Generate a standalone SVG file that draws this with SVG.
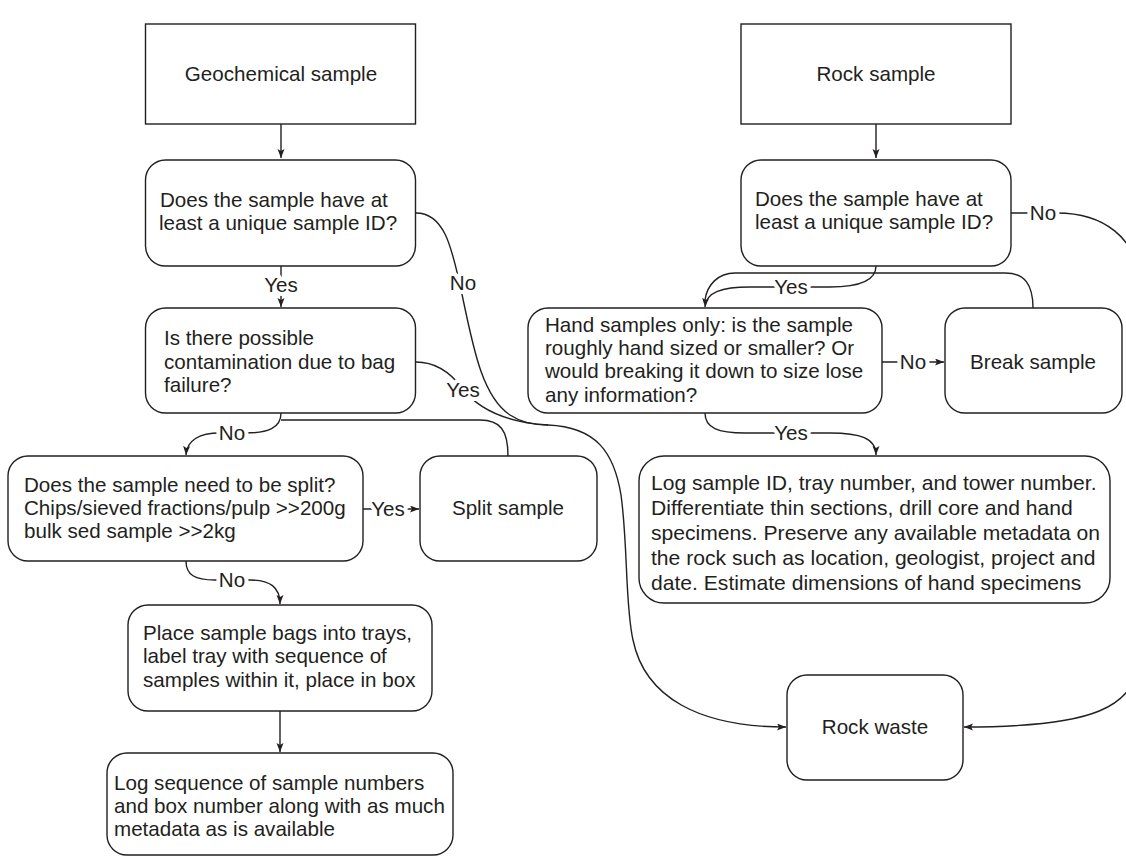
<svg xmlns="http://www.w3.org/2000/svg" width="1126" height="857" viewBox="0 0 1126 857">
<style>
.box{fill:#ffffff;stroke:#231f20;stroke-width:1.4}
.t{font-family:"Liberation Sans",Arial,Helvetica,sans-serif;font-size:20.6px;fill:#231f20}
.big{font-size:21.1px}
.c{text-anchor:middle}
.ln{fill:none;stroke:#231f20;stroke-width:1.4}
.lbl{font-family:"Liberation Sans",Arial,Helvetica,sans-serif;font-size:20.6px;fill:#231f20;text-anchor:middle;stroke:#ffffff;stroke-width:8;stroke-linejoin:round;paint-order:stroke}
</style>
<defs>
<marker id="ah" markerUnits="userSpaceOnUse" markerWidth="10" markerHeight="8" refX="9" refY="3.5" orient="auto">
<path d="M0,0 L9,3.5 L0,7 L2,3.5 z" fill="#231f20"/>
</marker>
</defs>
<rect width="1126" height="857" fill="#ffffff"/>

<g id="connectors">
<path class="ln" d="M281,124 L281,158" marker-end="url(#ah)"/>
<path class="ln" d="M876,124 L876,158" marker-end="url(#ah)"/>
<path class="ln" d="M281,266 L281,307" marker-end="url(#ah)"/>
<path class="ln" d="M416,213 C445,213 452,250 460,285 C472,340 480,395 510,415 C522,423 535,425 548,425 C596,427 614,452 621,495 C628,545 625,605 633,640 C645,698 700,727 786,727" marker-end="url(#ah)"/>
<path class="ln" d="M416,362 C436,362 450,372 462,388 C475,405 500,422 548,425"/>
<path class="ln" d="M281,413 C281,428 268,433 245,433 L220,433 C200,433 187,440 186,455" marker-end="url(#ah)"/>
<path class="ln" d="M508,456 C508,430 500,420 480,420 L281,420"/>
<path class="ln" d="M363,509 L419,509" marker-end="url(#ah)"/>
<path class="ln" d="M186,561 C186,575 195,580 215,580 L250,580 C270,580 280,587 280,604" marker-end="url(#ah)"/>
<path class="ln" d="M280,711 L280,752" marker-end="url(#ah)"/>
<path class="ln" d="M1011,213 L1057,213 C1100,213 1140,235 1140,290 L1140,650 C1140,710 1090,727 964,727" marker-end="url(#ah)"/>
<path class="ln" d="M876,266 C876,280 862,287 830,287 L750,287 C722,287 706,292 705,307" marker-end="url(#ah)"/>
<path class="ln" d="M1033,308 C1033,285 1025,273 1005,273 L735,273 C718,273 707,285 705,300"/>
<path class="ln" d="M882,362 L944,362" marker-end="url(#ah)"/>
<path class="ln" d="M705,413 C705,428 718,433 745,433 L830,433 C860,433 876,438 876,455" marker-end="url(#ah)"/>
<text class="lbl" x="281" y="292">Yes</text>
<text class="lbl" x="463" y="290">No</text>
<text class="lbl" x="463" y="397">Yes</text>
<text class="lbl" x="232" y="440">No</text>
<text class="lbl" x="388" y="516">Yes</text>
<text class="lbl" x="232" y="587">No</text>
<text class="lbl" x="791" y="294">Yes</text>
<text class="lbl" x="1043" y="220">No</text>
<text class="lbl" x="913" y="369">No</text>
<text class="lbl" x="791" y="440">Yes</text>
</g>

<g id="geochemical-sample">
<rect class="box" x="145.5" y="24" width="270" height="100"/>
<text class="t c" x="281" y="81">Geochemical sample</text>
</g>
<g id="rock-sample">
<rect class="box" x="741" y="24" width="270" height="100"/>
<text class="t c" x="876" y="81">Rock sample</text>
</g>

<g id="q-unique-id-left">
<rect class="box" x="145.5" y="160" width="270" height="106" rx="20"/>
<text class="t" x="160" y="207">Does the sample have at</text>
<text class="t" x="159" y="230">least a unique sample ID?</text>
</g>
<g id="q-contamination">
<rect class="box" x="145.5" y="308" width="270" height="105" rx="20"/>
<text class="t" x="164" y="345">Is there possible</text>
<text class="t" x="164" y="369">contamination due to bag</text>
<text class="t" x="164" y="392">failure?</text>
</g>
<g id="q-split">
<rect class="box" x="8" y="456" width="355" height="105" rx="20"/>
<text class="t" x="24" y="492">Does the sample need to be split?</text>
<text class="t" x="24" y="515">Chips/sieved fractions/pulp &gt;&gt;200g</text>
<text class="t" x="24" y="538">bulk sed sample &gt;&gt;2kg</text>
</g>
<g id="split-sample">
<rect class="box" x="420" y="456" width="177" height="105" rx="20"/>
<text class="t c" x="508" y="515">Split sample</text>
</g>
<g id="place-trays">
<rect class="box" x="128" y="605" width="304" height="106" rx="20"/>
<text class="t" x="143" y="640">Place sample bags into trays,</text>
<text class="t" x="143" y="663">label tray with sequence of</text>
<text class="t" x="143" y="687">samples within it, place in box</text>
</g>
<g id="log-sequence">
<rect class="box" x="107" y="753" width="346" height="102" rx="20"/>
<text class="t" x="114" y="790">Log sequence of sample numbers</text>
<text class="t" x="114" y="813">and box number along with as much</text>
<text class="t" x="114" y="836">metadata as is available</text>
</g>

<g id="q-unique-id-right">
<rect class="box" x="741" y="160" width="270" height="106" rx="20"/>
<text class="t" x="755" y="206">Does the sample have at</text>
<text class="t" x="755" y="229">least a unique sample ID?</text>
</g>
<g id="q-hand-sample">
<rect class="box" x="528" y="308" width="354" height="105" rx="20"/>
<text class="t" x="545" y="332">Hand samples only: is the sample</text>
<text class="t" x="545" y="355">roughly hand sized or smaller? Or</text>
<text class="t" x="545" y="378">would breaking it down to size lose</text>
<text class="t" x="545" y="402">any information?</text>
</g>
<g id="break-sample">
<rect class="box" x="945" y="308" width="177" height="105" rx="20"/>
<text class="t c" x="1033" y="369">Break sample</text>
</g>
<g id="log-rock">
<rect class="box" x="639" y="456" width="471" height="147" rx="25"/>
<text class="t big" x="651" y="490">Log sample ID, tray number, and tower number.</text>
<text class="t big" x="651" y="515">Differentiate thin sections, drill core and hand</text>
<text class="t big" x="651" y="540">specimens. Preserve any available metadata on</text>
<text class="t big" x="651" y="565">the rock such as location, geologist, project and</text>
<text class="t big" x="651" y="590">date. Estimate dimensions of hand specimens</text>
</g>
<g id="rock-waste">
<rect class="box" x="787" y="675" width="176" height="105" rx="20"/>
<text class="t c" x="875" y="734">Rock waste</text>
</g>
</svg>
